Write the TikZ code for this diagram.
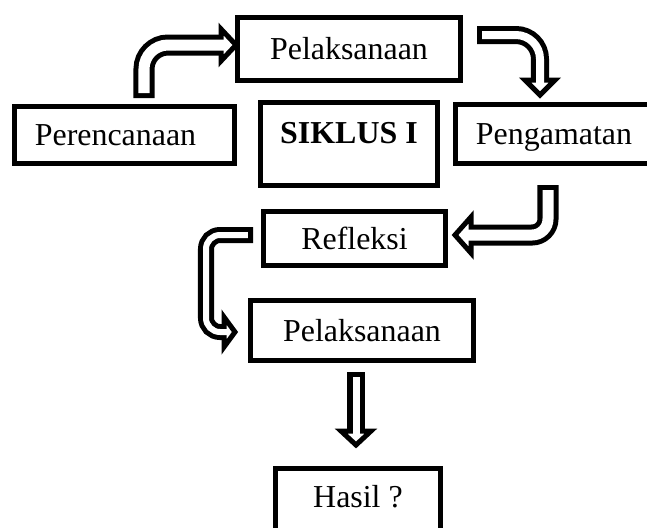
\documentclass[tikz,border=0pt]{standalone}
\usepackage{fontspec}
\setmainfont{Liberation Serif}
\usepackage{tikz}

\begin{document}
\begin{tikzpicture}[x=0.025cm, y=-0.025cm,
    font=\fontsize{22.7}{27}\selectfont,
    box/.style={draw, line width=0.125cm, inner sep=0pt, text height=15pt, text depth=0pt},
    tubeout/.style={draw=black, line width={#1+0.25cm}},
    tubein/.style={draw=white, line width=#1, shorten <=0.125cm, shorten >=-0.1cm},
    headshape/.style={draw=black, fill=white, line width=0.125cm, line join=miter}]
    \useasboundingbox (0,0) rectangle (647,528);
    \clip (0,0) rectangle (647,528);

    \node[box, minimum width=5.575cm, minimum height=1.575cm] (pel) at (349,49) {Pelaksanaan};
    \node[box, minimum width=5.5cm, minimum height=1.425cm] (peren) at (124.5,135) {Perencanaan\hspace*{0.45cm}};
    \node[box, minimum width=4.425cm, minimum height=2.075cm, text depth=0.575cm] (siklus) at (349,144) {\textbf{SIKLUS I}};
    \node[box, minimum width=4.925cm, minimum height=1.475cm] (peng) at (554,134) {Pengamatan};
    \node[box, minimum width=4.55cm, minimum height=1.35cm] (refl) at (354.5,238.5) {Refleksi};
    \node[box, minimum width=5.575cm, minimum height=1.5cm] (pelb) at (362,330.5) {Pelaksanaan};
    \node[box, minimum width=4.125cm, minimum height=1.575cm, text depth=0.15cm] (hasil) at (358,500) {Hasil ?};

    % perencanaan -> pelaksanaan
    \coordinate (a1s) at (144,98);
    \coordinate (a1b) at (221,45);
    \draw[tubeout=0.275cm, rounded corners=0.6cm] (a1s) |- (a1b);
    \draw[headshape, shift={(a1b)}] (0,-16) -- (15,0) -- (0,16) -- cycle;
    \draw[tubein=0.275cm, rounded corners=0.6cm] (a1s) |- (a1b);

    % pelaksanaan -> pengamatan
    \coordinate (a2s) at (477,35);
    \coordinate (a2b) at (540,80);
    \draw[tubeout=0.2cm, rounded corners=0.6cm] (a2s) -| (a2b);
    \draw[headshape, shift={(a2b)}, rotate=-90] (0,-15) -- (15,0) -- (0,15) -- cycle;
    \draw[tubein=0.2cm, rounded corners=0.6cm] (a2s) -| (a2b);

    % pengamatan -> refleksi
    \coordinate (a3s) at (548,185);
    \coordinate (a3b) at (471,235);
    \draw[tubeout=0.275cm, rounded corners=0.4cm] (a3s) |- (a3b);
    \draw[headshape, shift={(a3b)}, rotate=180] (0,-18) -- (16,0) -- (0,18) -- cycle;
    \draw[tubein=0.275cm, rounded corners=0.4cm] (a3s) |- (a3b);

    % refleksi -> pelaksanaan
    \coordinate (a4s) at (253,235);
    \coordinate (a4c) at (206,235);
    \coordinate (a4b) at (224,332);
    \draw[tubeout=0.15cm, rounded corners=0.35cm] (a4s) -- (a4c) |- (a4b);
    \draw[headshape, shift={(a4b)}] (0,-15) -- (11,0) -- (0,15) -- cycle;
    \draw[tubein=0.15cm, rounded corners=0.35cm] (a4s) -- (a4c) |- (a4b);

    % pelaksanaan -> hasil
    \coordinate (a5s) at (356,372);
    \coordinate (a5b) at (356,431);
    \draw[tubeout=0.175cm] (a5s) -- (a5b);
    \draw[headshape, shift={(a5b)}, rotate=-90] (0,-15) -- (14,0) -- (0,15) -- cycle;
    \draw[tubein=0.175cm] (a5s) -- (a5b);
\end{tikzpicture}
\end{document}
